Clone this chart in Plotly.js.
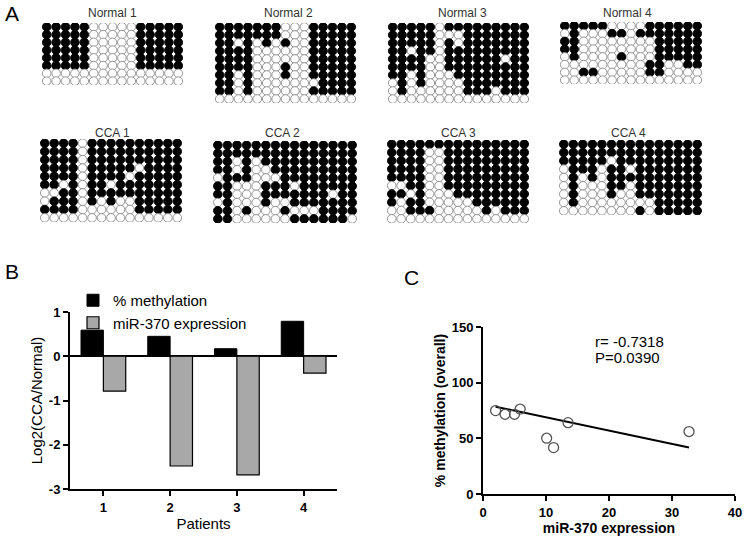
<!DOCTYPE html>
<html><head><meta charset="utf-8">
<script src="https://cdn.plot.ly/plotly-3.0.1.min.js"></script>
<style>html,body{margin:0;padding:0;background:#fff;}#chart{width:747px;height:538px;}</style>
</head><body><div id="chart"></div>
<script>
// ---- Panel A: bisulfite clone grids (1 = methylated / filled, 0 = unmethylated / open)
const normal1 = [
 "111110000011111","111110000011111","111110000011111","111110000011111",
 "111110000011111","111110000011111","000000000000000","000000000000000"];
const normal2 = [
 "111111100011111","111111100011111","110101010011111","111100000011111",
 "111100000011111","111100010011111","110100010011111","110100000001111",
 "110100000011111","000000000000000"];
const normal3 = [
 "111110111111111","111110001111111","111110101111111","110110111111111",
 "111100111111011","111100111111111","110100011111111","010100001111111",
 "010000001110111","000000000000000"];
const normal4 = [
 "111110000111111","010001101111111","110000000011111","110000000011111",
 "010000100011111","000000000110011","001100000110000","000000000000000"];
const cca1 = [
 "111101111111111","111101111111111","111101111111111","111101111101111",
 "111101111011111","110101101111111","001101111111111","011101010011111",
 "111100000011111","000000000000000"];
const cca2 = [
 "111111111111111","111111111111111","110101111111111","110100111111111",
 "011100011111111","110001110111111","110001111111011","010001001111111",
 "110100010001111","110000001111110"];
const cca3 = [
 "111111111111111","111100111111111","111100111111111","111100111111111",
 "111100111111111","001100111111111","110100011111111","101100000111111",
 "001110000010111","000000000000000"];
const cca4 = [
 "111111111111111","111111111111111","111110111111111","011101101111111",
 "010101111111111","010001101111111","010001001111111","010000000011111",
 "000000001011111"];
const gridTitles = ["Normal 1","Normal 2","Normal 3","Normal 4","CCA 1","CCA 2","CCA 3","CCA 4"];
const grids = [normal1, normal2, normal3, normal4, cca1, cca2, cca3, cca4];

// ---- Panel B
const patients = [1, 2, 3, 4];
const patientLabels = ["1", "2", "3", "4"];
const methylationLog2 = [0.59, 0.45, 0.17, 0.79];
const mirLog2 = [-0.79, -2.48, -2.68, -0.38];
const bTickVals = [-3, -2, -1, 0, 1];
const bTickLabels = ["-3", "-2", "-1", "0", "1"];

// ---- Panel C
const mirExpression = [2.0, 3.5, 5.0, 5.9, 10.1, 11.2, 13.5, 32.7];
const methylationOverall = [74.9, 71.6, 71.6, 76.3, 50.1, 41.7, 64.1, 56.1];
const fitX = [2.0, 32.7];
const fitY = [78.4, 41.7];

// ---- layout helpers
const W = 747, H = 538;
const px = x => x / W, py = y => 1 - y / H;
const FONT = "Arial, 'Liberation Sans', sans-serif";
const gridBoxes = [[42,183,23,85],[215,356,23,103],[388,529,23,103],[560,702,22,84],
                   [40,182,139,222],[213,357,141,223],[387,529,140,223],[559,702,140,215]];
const titlePos = [[112,13],[288,13],[462,13],[627,13],[112,133],[282,133],[458,133],[628,133]];

const data = [];
const layout = {
  width: W, height: H, margin: {l:0, r:0, t:0, b:0},
  paper_bgcolor: "#fff", plot_bgcolor: "rgba(0,0,0,0)",
  font: {family: FONT, color: "#000"},
  showlegend: true, barmode: "group", bargap: 0.33, bargroupgap: 0,
  annotations: [], hovermode: false
};

grids.forEach((g, i) => {
  const n = i + 1, s = n === 1 ? "" : String(n);
  const b = gridBoxes[i];
  const xs = [], ys = [], fill = [], edge = [];
  g.forEach((row, r) => {
    for (let c = 0; c < row.length; c++) {
      xs.push(c + 1); ys.push(r + 1);
      const on = row[c] === "1";
      fill.push(on ? "#000" : "#fff");
      edge.push(on ? "#000" : "#8a8a8a");
    }
  });
  layout["xaxis" + s] = {domain:[px(b[0]), px(b[1])], range:[0.5, 15.5], visible:false, anchor:"y"+s, fixedrange:true};
  layout["yaxis" + s] = {domain:[py(b[3]), py(b[2])], range:[g.length + 0.5, 0.5], visible:false, anchor:"x"+s, fixedrange:true};
  data.push({type:"scatter", mode:"markers", x:xs, y:ys, xaxis:"x"+s, yaxis:"y"+s,
    marker:{size:8.6, color:fill, line:{color:edge, width:0.9}}, showlegend:false, hoverinfo:"skip"});
  layout.annotations.push({xref:"paper", yref:"paper", x:px(titlePos[i][0]), y:py(titlePos[i][1]),
    text:gridTitles[i], showarrow:false, xanchor:"center", yanchor:"middle",
    font:{family:FONT, size:12, color:"#333"}});
});

// Panel B axes (9)
layout.xaxis9 = {domain:[px(70), px(337)], range:[0.5, 4.5], anchor:"y9",
  tickvals:patients, ticktext:patientLabels, showline:true, linewidth:2, linecolor:"#000",
  ticks:"outside", ticklen:5, tickwidth:2, tickcolor:"#000", showgrid:false, zeroline:false,
  tickfont:{family:FONT, size:13, weight:"bold"},
  title:{text:"Patients", font:{family:FONT, size:15}, standoff:5}};
layout.yaxis9 = {domain:[py(489), py(312)], range:[-3, 1], anchor:"x9",
  tickvals:bTickVals, ticktext:bTickLabels, showline:true, linewidth:2, linecolor:"#000",
  ticks:"outside", ticklen:5, tickwidth:2, tickcolor:"#000", showgrid:false,
  zeroline:true, zerolinewidth:2, zerolinecolor:"#000",
  tickfont:{family:FONT, size:13, weight:"bold"},
  title:{text:"Log2(CCA/Normal)", font:{family:FONT, size:15}, standoff:3}};
data.push({type:"bar", x:patients, y:methylationLog2, name:"% methylation", xaxis:"x9", yaxis:"y9",
  marker:{color:"#000", line:{color:"#000", width:1}}});
data.push({type:"bar", x:patients, y:mirLog2, name:"miR-370 expression", xaxis:"x9", yaxis:"y9",
  marker:{color:"#a8a8a8", line:{color:"#000", width:1.2}}});
layout.legend = {x:px(73), y:py(284), xanchor:"left", yanchor:"top", bgcolor:"rgba(0,0,0,0)",
  font:{family:FONT, size:15}, tracegroupgap:0, itemclick:false, itemdoubleclick:false};

// Panel C axes (10)
layout.xaxis10 = {domain:[px(483), px(735)], range:[0, 40], anchor:"y10", dtick:10, tick0:0,
  showline:true, linewidth:2, linecolor:"#000", ticks:"outside", ticklen:5, tickwidth:2, tickcolor:"#000",
  showgrid:false, zeroline:false, tickfont:{family:FONT, size:13, weight:"bold"},
  title:{text:"miR-370 expression", font:{family:FONT, size:14, weight:"bold"}, standoff:5}};
layout.yaxis10 = {domain:[py(494), py(327)], range:[0, 150], anchor:"x10", dtick:50, tick0:0,
  showline:true, linewidth:2, linecolor:"#000", ticks:"outside", ticklen:5, tickwidth:2, tickcolor:"#000",
  showgrid:false, zeroline:false, tickfont:{family:FONT, size:13, weight:"bold"},
  title:{text:"% methylation (overall)", font:{family:FONT, size:14, weight:"bold"}, standoff:3}};
data.push({type:"scatter", mode:"lines", x:fitX, y:fitY, xaxis:"x10", yaxis:"y10",
  line:{color:"#000", width:2}, showlegend:false, hoverinfo:"skip"});
data.push({type:"scatter", mode:"markers", x:mirExpression, y:methylationOverall, xaxis:"x10", yaxis:"y10",
  marker:{symbol:"circle-open", size:10, color:"#555", line:{width:1.3}}, showlegend:false, hoverinfo:"skip"});

layout.annotations.push(
  {xref:"paper", yref:"paper", x:px(593), y:py(341), text:"r= -0.7318", showarrow:false, xanchor:"left", yanchor:"middle", font:{family:FONT, size:15}},
  {xref:"paper", yref:"paper", x:px(593), y:py(357), text:"P=0.0390", showarrow:false, xanchor:"left", yanchor:"middle", font:{family:FONT, size:15}},
  {xref:"paper", yref:"paper", x:px(3), y:py(13), text:"A", showarrow:false, xanchor:"left", yanchor:"middle", font:{family:FONT, size:21}},
  {xref:"paper", yref:"paper", x:px(3), y:py(271), text:"B", showarrow:false, xanchor:"left", yanchor:"middle", font:{family:FONT, size:21}},
  {xref:"paper", yref:"paper", x:px(402), y:py(277), text:"C", showarrow:false, xanchor:"left", yanchor:"middle", font:{family:FONT, size:21}}
);

Plotly.newPlot("chart", data, layout, {staticPlot:true, displayModeBar:false});
</script></body></html>
